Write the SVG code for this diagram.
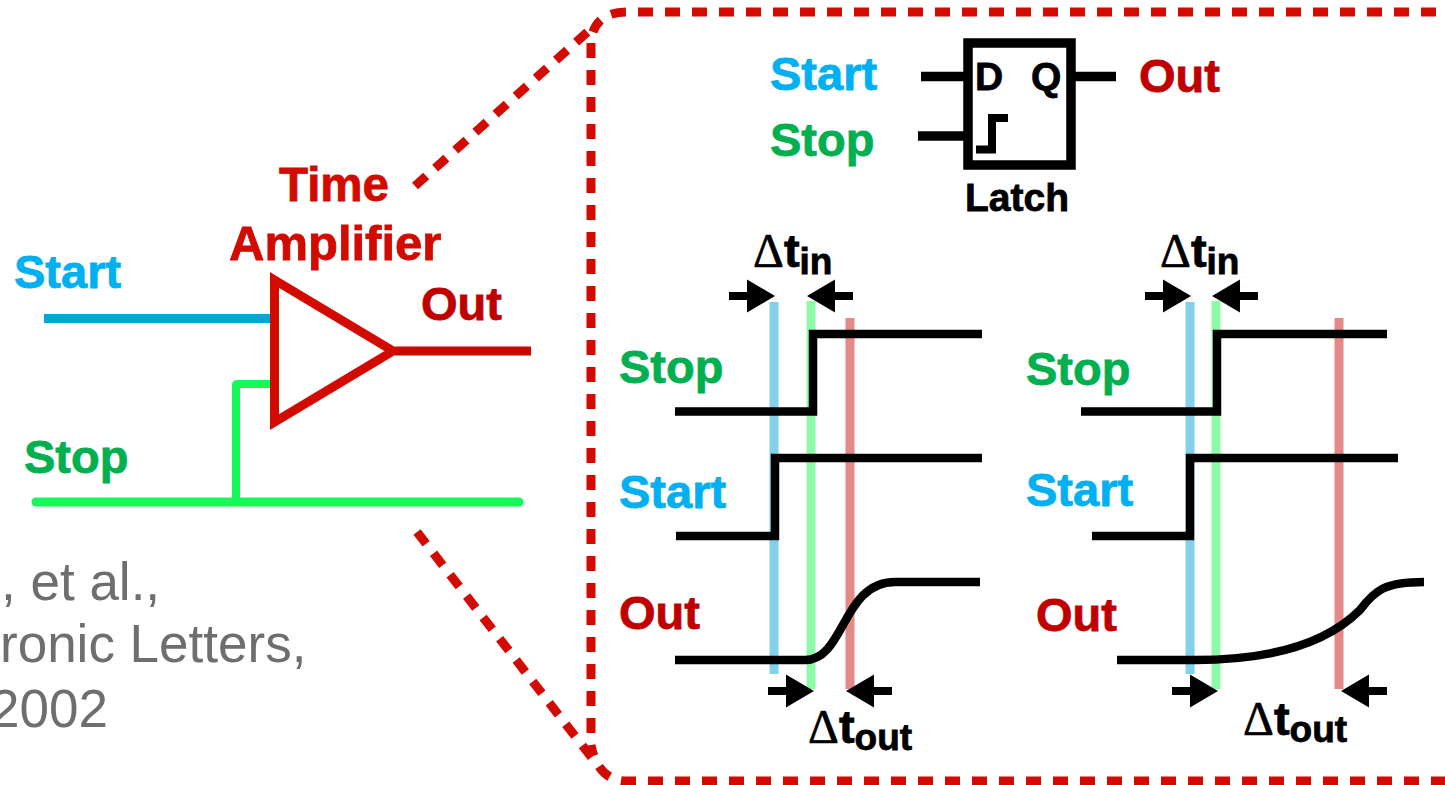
<svg xmlns="http://www.w3.org/2000/svg" width="1445" height="785" viewBox="0 0 1445 785">
<defs>
<style>
text{font-family:"Liberation Sans",Arial,sans-serif;font-weight:700;font-size:47px;stroke-width:.8px;stroke:#000}
.blue{fill:#00b0f0;stroke:#00b0f0}.green{fill:#00b050;stroke:#00b050}.red{fill:#c00000;stroke:#c00000}.tr{fill:#d20a00;stroke:#d20a00}
.gray{fill:#6e6e6e;font-weight:400;font-size:53px;stroke:none}
.d{font-family:"Liberation Serif",serif;font-weight:400;font-size:48px;stroke-width:.6px}
.sub{font-size:37px}
.w{fill:none;stroke:#000;stroke-width:8.500}
.bar{stroke-width:9;fill:none}
.dash{fill:none;stroke:#d20a00;stroke-width:9;stroke-dasharray:15 12}
.l{font-size:39px}
</style>
<g id="ar"><path d="M-46 -4H-28V-16.500L0 0L-28 16.500V4H-46Z" fill="#000"/></g>
</defs>
<rect width="1445" height="785" fill="#fff"/>
<g id="connectors">
<path class="dash" d="M415 186L592 28"/>
<path class="dash" d="M417 532L592 758"/>
<path class="dash" d="M1463 12H627Q600 12 593 32"/>
<path class="dash" d="M591 43V742"/>
<path class="dash" d="M1473 781H627Q598 781 591 745"/>
<path d="M44 318.500H272" fill="none" stroke="#04a3da" stroke-width="9"/>
<path d="M36 502H519" fill="none" stroke="#14f956" stroke-width="9" stroke-linecap="round"/>
<path d="M236 502V385Q236 384 238 384H272" fill="none" stroke="#14f956" stroke-width="8"/>
<path d="M395 351H531" fill="none" stroke="#c80800" stroke-width="9"/>
</g>
<g id="amplifier"><path d="M274.500 280L393 351L274.500 422Z" fill="none" stroke="#d20a00" stroke-width="9"/></g>
<g id="left-labels">
<text class="tr" x="279" y="201" style="font-size:47.500px">Time</text>
<text class="tr" x="229" y="260" style="font-size:49px">Amplifier</text>
<text class="blue" x="14" y="288">Start</text>
<text class="green" x="24" y="473">Stop</text>
<text class="red" x="421" y="320">Out</text>
<text class="gray" x="1" y="600">, et al.,</text>
<text class="gray" x="0" y="662">ronic Letters,</text>
<text class="gray" x="-10" y="727">2002</text>
</g>
<g id="latch">
<rect x="968" y="43" width="103" height="122" fill="none" stroke="#000" stroke-width="9.500"/>
<path d="M921 76.500H968M918 136H968M1072 76.500H1116" fill="none" stroke="#000" stroke-width="9.500"/>
<path d="M976 149.500H992V118H1008" fill="none" stroke="#000" stroke-width="8"/>
<text class="l" x="975" y="90">D</text>
<text class="l" x="1031" y="90">Q</text>
<text class="l" x="965" y="211">Latch</text>
<text class="blue" x="770" y="90">Start</text>
<text class="green" x="770" y="156">Stop</text>
<text class="red" x="1139" y="92">Out</text>
</g>
<g id="timing-left">
<path class="bar" stroke="#83d0ea" d="M774 302V674"/>
<path class="bar" stroke="#8cfaa8" d="M811 301V689"/>
<path class="bar" stroke="#e58888" d="M850 318V689"/>
<path class="w" d="M675 411.500H813V334H982"/>
<path class="w" d="M676 536H775V458H982"/>
<path class="w" d="M675 660H805C845 660 842 582 895 582H980"/>
<use href="#ar" x="775" y="296"/>
<use href="#ar" transform="translate(807,296) scale(-1,1)"/>
<use href="#ar" x="814" y="691"/>
<use href="#ar" transform="translate(846,691) scale(-1,1)"/>
<text class="green" x="619" y="383">Stop</text>
<text class="blue" x="619" y="508">Start</text>
<text class="red" x="619" y="629">Out</text>
<text x="753" y="267"><tspan class="d">Δ</tspan>t<tspan class="sub" dy="7">in</tspan></text>
<text x="808" y="743"><tspan class="d">Δ</tspan>t<tspan class="sub" dy="7">out</tspan></text>
</g>
<g id="timing-right">
<path class="bar" stroke="#83d0ea" d="M1190 302V674"/>
<path class="bar" stroke="#8cfaa8" d="M1216 301V689"/>
<path class="bar" stroke="#e58888" d="M1339 318V689"/>
<path class="w" d="M1081 411.500H1217V334H1387"/>
<path class="w" d="M1092 536H1190V458H1398"/>
<path class="w" d="M1117 660H1195C1280 660 1330 640 1360 610C1375 590 1385 582 1424 582"/>
<use href="#ar" x="1191" y="296"/>
<use href="#ar" transform="translate(1212,296) scale(-1,1)"/>
<use href="#ar" x="1218" y="691"/>
<use href="#ar" transform="translate(1341,691) scale(-1,1)"/>
<text class="green" x="1026" y="385">Stop</text>
<text class="blue" x="1026" y="506">Start</text>
<text class="red" x="1036" y="631">Out</text>
<text x="1160" y="267"><tspan class="d">Δ</tspan>t<tspan class="sub" dy="7">in</tspan></text>
<text x="1243" y="735"><tspan class="d">Δ</tspan>t<tspan class="sub" dy="7">out</tspan></text>
</g>
</svg>
